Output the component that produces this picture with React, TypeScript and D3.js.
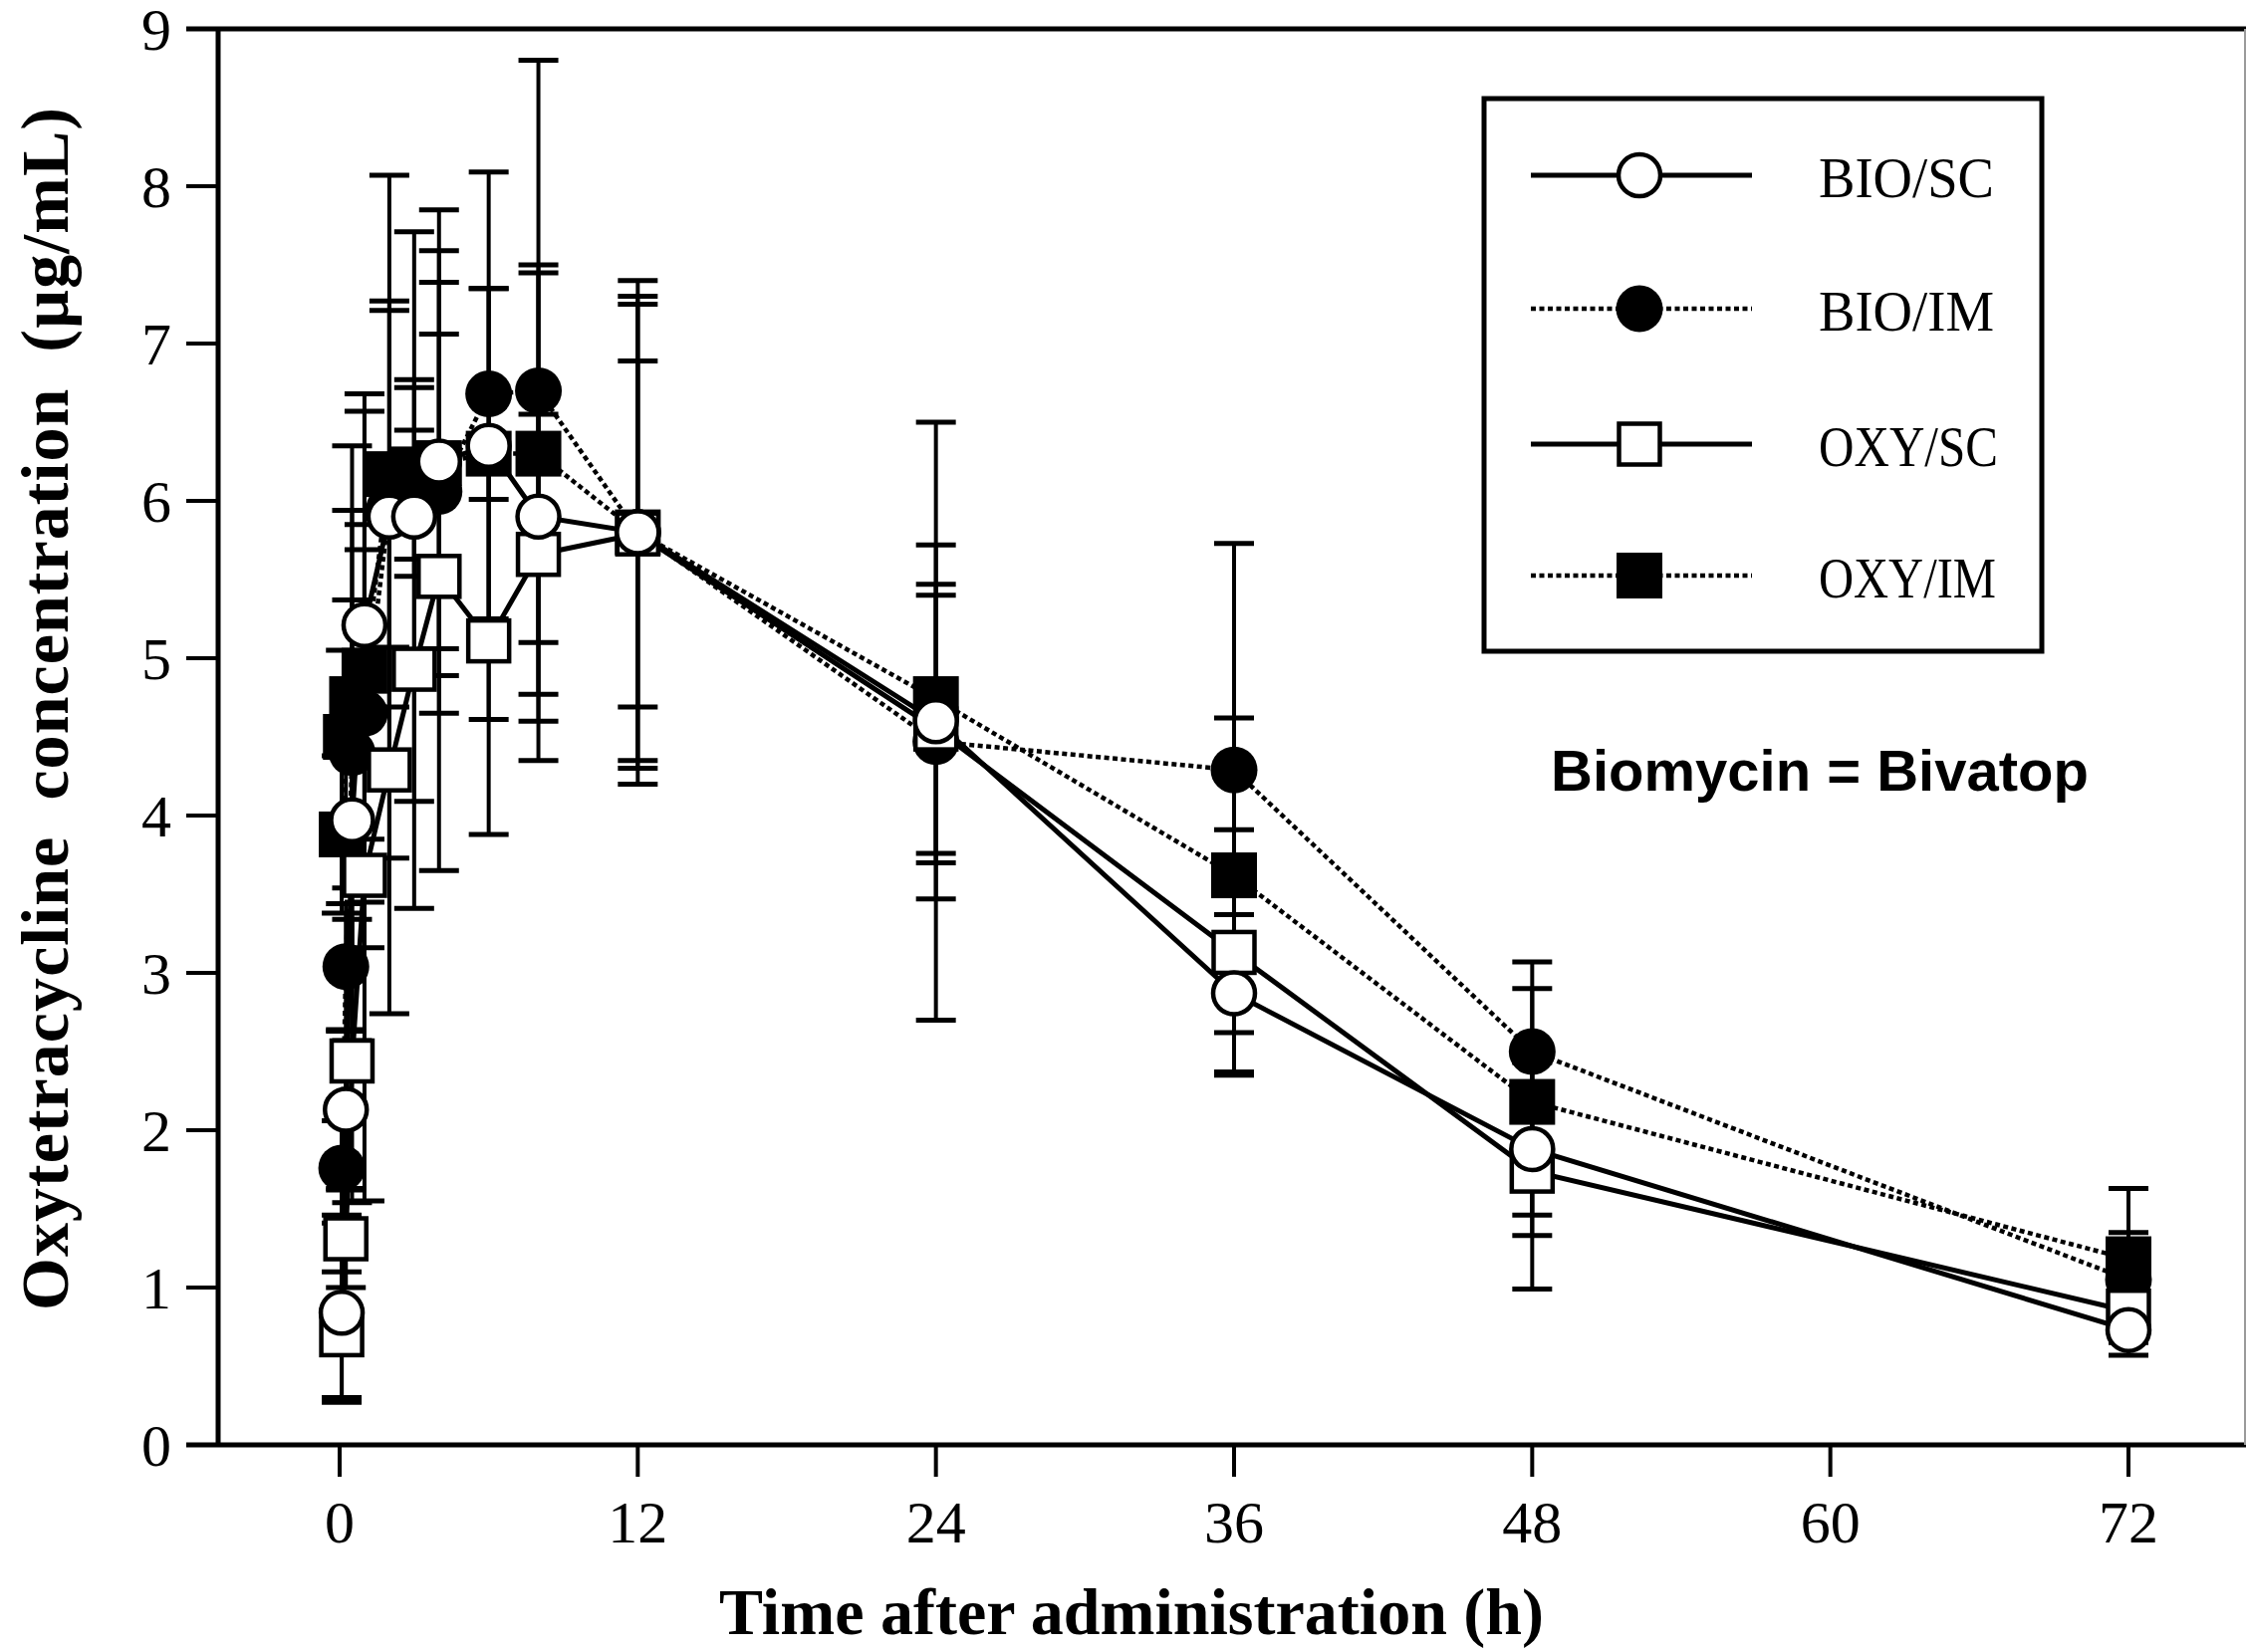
import React from 'react';
import * as d3 from 'd3';

// Sampling times (h)
const hours = [0.083, 0.25, 0.5, 1, 2, 3, 4, 6, 8, 12, 24, 36, 48, 72];

// Mean plasma concentrations (µg/mL) and standard deviations
const bioSC = [0.84, 2.13, 3.97, 5.21, 5.9, 5.9, 6.25, 6.35, 5.9, 5.8, 4.6, 2.87, 1.88, 0.73];
const bioSCsd = [0.57, 0.5, 1.4, 1.36, 2.17, 1.81, 1.6, 1.74, 1.55, 1.5, 1.9, 0.5, 0.55, 0.16];
const bioIM = [1.76, 3.04, 4.4, 4.65, 5.95, 6.12, 6.06, 6.68, 6.7, 5.8, 4.47, 4.29, 2.5, 1.05];
const bioIMsd = [0.3, 0.4, 1.95, 1.2, 1.26, 0.6, 1.0, 0.67, 2.1, 1.45, 1.0, 1.44, 0.57, 0.3];
const oxySC = [0.7, 1.31, 2.44, 3.62, 4.29, 4.93, 5.52, 5.11, 5.66, 5.79, 4.55, 3.13, 1.74, 0.85];
const oxySCsd = [0.4, 0.31, 0.9, 2.07, 1.55, 1.52, 1.87, 1.23, 0.89, 1.1, 0.85, 0.78, 0.75, 0.2];
const oxyIM = [3.88, 4.5, 4.74, 4.92, 6.17, 6.2, 6.24, 6.3, 6.3, 5.8, 4.74, 3.62, 2.18, 1.18];
const oxyIMsd = [0.5, 0.55, 1.2, 1.76, 1.1, 0.57, 1.35, 1.05, 1.2, 1.6, 0.98, 1.0, 0.72, 0.45];

const seriesNames = ['BIO/SC', 'BIO/IM', 'OXY/SC', 'OXY/IM'];
const legendLabelWidths = [176, 176, 180, 178];
const xTicks = [0, 12, 24, 36, 48, 60, 72];
const yTicks = [0, 1, 2, 3, 4, 5, 6, 7, 8, 9];

const yTitle = 'Oxytetracycline  concentration  (\u00b5g/mL)';
const xTitle = 'Time after administration (h)';
const note = 'Biomycin = Bivatop';

type Shape = 'circle' | 'square';
interface Series {
  name: string;
  values: number[];
  sd: number[];
  shape: Shape;
  filled: boolean;
  dotted: boolean;
}

const series: Series[] = [
  { name: seriesNames[0], values: bioSC, sd: bioSCsd, shape: 'circle', filled: false, dotted: false },
  { name: seriesNames[1], values: bioIM, sd: bioIMsd, shape: 'circle', filled: true, dotted: true },
  { name: seriesNames[2], values: oxySC, sd: oxySCsd, shape: 'square', filled: false, dotted: false },
  { name: seriesNames[3], values: oxyIM, sd: oxyIMsd, shape: 'square', filled: true, dotted: true },
];

const W = 2255;
const H = 1659;
const x = d3.scaleLinear().domain([0, 72]).range([341, 2137]);
const y = d3.scaleLinear().domain([0, 9]).range([1451, 29]);
const frameLeft = 219;
const frameRight = 2254;
const tickOut = 32;

const serif = '"Liberation Serif", "Times New Roman", Times, serif';
const sans = '"Liberation Sans", Arial, Helvetica, sans-serif';

const DOT = '5 3.5';

function Marker({ cx, cy, shape, filled }: { cx: number; cy: number; shape: Shape; filled: boolean }) {
  if (shape === 'circle') {
    return filled ? (
      <circle cx={cx} cy={cy} r={23.5} fill="#000" />
    ) : (
      <circle cx={cx} cy={cy} r={21} fill="#fff" stroke="#000" strokeWidth={4.5} />
    );
  }
  const s = filled ? 46 : 41;
  return filled ? (
    <rect x={cx - s / 2} y={cy - s / 2} width={s} height={s} fill="#000" />
  ) : (
    <rect x={cx - s / 2} y={cy - s / 2} width={s} height={s} fill="#fff" stroke="#000" strokeWidth={4.5} />
  );
}

export default function App() {
  const line = d3
    .line<number>()
    .x((_, i) => x(hours[i]))
    .y((v) => y(v));

  // filled symbols underneath, open symbols on top
  const drawOrder = [3, 1, 2, 0];
  const legendRows = [176, 310, 446, 578];

  return (
    <svg
      width={W}
      height={H}
      viewBox={`0 0 ${W} ${H}`}
      style={{ position: 'absolute', left: 0, top: 0, background: '#fff' }}
    >
      <rect x={0} y={0} width={W} height={H} fill="#fff" />

      {/* error bars (mean ± SD) */}
      <g stroke="#000">
        {series.map((s) =>
          s.values.map((v, i) => {
            const cx = x(hours[i]);
            const hi = y(v + s.sd[i]);
            const lo = y(Math.max(0, v - s.sd[i]));
            return (
              <g key={`${s.name}-e-${i}`}>
                <line x1={cx} x2={cx} y1={hi} y2={lo} strokeWidth={4} />
                <line x1={cx - 20} x2={cx + 20} y1={hi} y2={hi} strokeWidth={5} />
                <line x1={cx - 20} x2={cx + 20} y1={lo} y2={lo} strokeWidth={5} />
              </g>
            );
          })
        )}
      </g>

      {/* connecting lines */}
      {series.map((s) => (
        <path
          key={`${s.name}-line`}
          d={line(s.values) || ''}
          fill="none"
          stroke="#000"
          strokeWidth={s.dotted ? 4.5 : 5}
          strokeDasharray={s.dotted ? DOT : undefined}
        />
      ))}

      {/* markers */}
      {drawOrder.map((k) => {
        const s = series[k];
        return (
          <g key={`${s.name}-m`}>
            {s.values.map((v, i) => (
              <Marker key={i} cx={x(hours[i])} cy={y(v)} shape={s.shape} filled={s.filled} />
            ))}
          </g>
        );
      })}

      {/* frame and axes */}
      <g stroke="#000" fill="none">
        <line x1={frameLeft - tickOut} x2={W} y1={y(9)} y2={y(9)} strokeWidth={5} />
        <line x1={frameLeft - tickOut} x2={W} y1={y(0)} y2={y(0)} strokeWidth={5} />
        <line x1={frameLeft} x2={frameLeft} y1={y(9)} y2={y(0)} strokeWidth={5} />
        <line x1={frameRight} x2={frameRight} y1={y(9)} y2={y(0)} strokeWidth={2} stroke="#9a9a9a" />
        {yTicks
          .filter((t) => t > 0 && t < 9)
          .map((t) => (
            <line key={`yt${t}`} x1={frameLeft - tickOut} x2={frameLeft} y1={y(t)} y2={y(t)} strokeWidth={4} />
          ))}
        {xTicks.map((t) => (
          <line key={`xt${t}`} x1={x(t)} x2={x(t)} y1={y(0)} y2={y(0) + 32} strokeWidth={4} />
        ))}
      </g>

      {/* tick labels */}
      <g fontFamily={serif} fontSize={60} fill="#000">
        {yTicks.map((t) => (
          <text key={`yl${t}`} x={172} y={y(t)} dy="0.35em" textAnchor="end">
            {t}
          </text>
        ))}
        {xTicks.map((t) => (
          <text key={`xl${t}`} x={x(t)} y={1549} textAnchor="middle">
            {t}
          </text>
        ))}
      </g>

      {/* axis titles */}
      <text
        transform={`translate(68,712) rotate(-90)`}
        textAnchor="middle"
        fontFamily={serif}
        fontWeight="bold"
        fontSize={68}
        textLength={1208}
        lengthAdjust="spacing"
        style={{ whiteSpace: 'pre' }}
      >
        {yTitle}
      </text>
      <text x={1136} y={1641} textAnchor="middle" fontFamily={serif} fontWeight="bold" fontSize={66}>
        {xTitle}
      </text>

      {/* legend */}
      <rect x={1490} y={99} width={560} height={555} fill="#fff" stroke="#000" strokeWidth={5} />
      {series.map((s, k) => {
        const ly = legendRows[k];
        return (
          <g key={`leg-${s.name}`}>
            <line
              x1={1537}
              x2={1759}
              y1={ly}
              y2={ly}
              stroke="#000"
              strokeWidth={s.dotted ? 4.5 : 5}
              strokeDasharray={s.dotted ? DOT : undefined}
            />
            <Marker cx={1646} cy={ly} shape={s.shape} filled={s.filled} />
            <text
              x={1826}
              y={ly + 22}
              fontFamily={serif}
              fontSize={56}
              fill="#000"
              textLength={legendLabelWidths[k]}
              lengthAdjust="spacingAndGlyphs"
            >
              {s.name}
            </text>
          </g>
        );
      })}

      {/* annotation */}
      <text x={1557} y={794} fontFamily={sans} fontWeight="bold" fontSize={58} fill="#000">
        {note}
      </text>
    </svg>
  );
}
